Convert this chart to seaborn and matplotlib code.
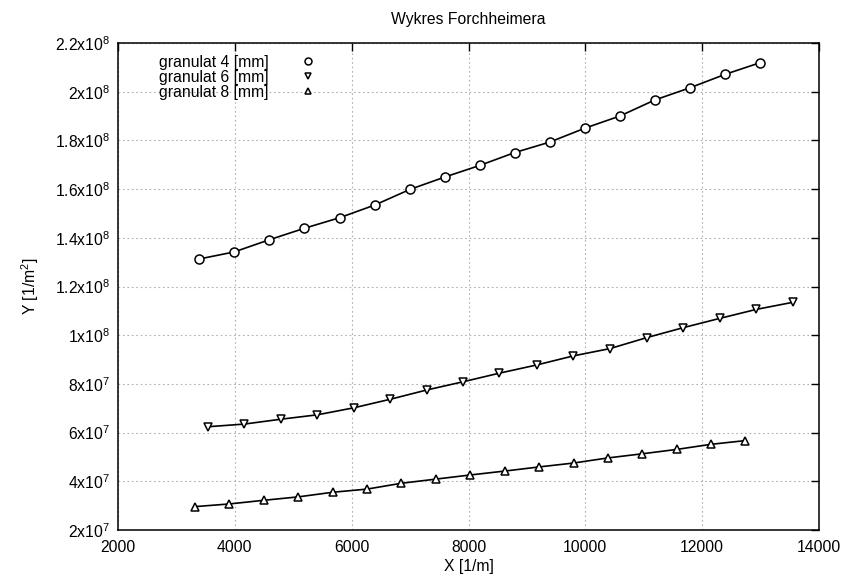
import matplotlib
matplotlib.use("Agg")
import matplotlib.pyplot as plt
from matplotlib.lines import Line2D
from matplotlib.ticker import FuncFormatter, MultipleLocator
import seaborn as sns
import pandas as pd

x4 = [3390, 3990, 4590, 5190, 5800, 6400, 7000, 7600, 8190, 8790, 9390, 9990,
      10590, 11190, 11790, 12390, 12990]
y4 = [1.313e8, 1.342e8, 1.392e8, 1.439e8, 1.483e8, 1.535e8, 1.599e8, 1.650e8,
      1.697e8, 1.750e8, 1.793e8, 1.850e8, 1.900e8, 1.966e8, 2.016e8, 2.071e8, 2.119e8]

x6 = [3535, 4162, 4790, 5412, 6040, 6662, 7285, 7912, 8527, 9172, 9794, 10422,
      11050, 11677, 12300, 12927, 13550]
y6 = [6.24e7, 6.35e7, 6.55e7, 6.73e7, 7.02e7, 7.37e7, 7.75e7, 8.09e7, 8.44e7,
      8.78e7, 9.15e7, 9.45e7, 9.90e7, 1.031e8, 1.069e8, 1.106e8, 1.135e8]

x8 = [3318, 3907, 4496, 5085, 5675, 6264, 6853, 7442, 8031, 8620, 9209, 9798,
      10387, 10977, 11566, 12155, 12733]
y8 = [2.96e7, 3.07e7, 3.22e7, 3.36e7, 3.55e7, 3.68e7, 3.92e7, 4.09e7, 4.26e7,
      4.42e7, 4.59e7, 4.75e7, 4.96e7, 5.13e7, 5.31e7, 5.52e7, 5.67e7]

labels = ["granulat 4 [mm]", "granulat 6 [mm]", "granulat 8 [mm]"]
markers = ["o", "v", "^"]
msizes = [6.5, 5.3, 5.3]

FS = 11.3

sns.set_theme(style="white")
plt.rcParams["font.family"] = ["Liberation Sans", "DejaVu Sans"]
plt.rcParams["mathtext.fontset"] = "custom"
plt.rcParams["mathtext.rm"] = "Liberation Sans"
plt.rcParams["mathtext.it"] = "Liberation Sans"
plt.rcParams["text.color"] = "black"
plt.rcParams["axes.labelcolor"] = "black"

fig = plt.figure(figsize=(8.49, 5.83), dpi=100)
ax = fig.add_axes([118 / 849, 1 - 530 / 583, (819 - 118) / 849, (530 - 43) / 583])

for xs, ys, lab, mk, ms in zip([x4, x6, x8], [y4, y6, y8], labels, markers, msizes):
    df = pd.DataFrame({"x": xs, "y": ys})
    sns.lineplot(data=df, x="x", y="y", ax=ax, color="black", linewidth=1.2,
                 marker=mk, markersize=ms, markerfacecolor="white",
                 markeredgecolor="black", markeredgewidth=1.1, label=lab,
                 legend=False)

ax.set_xlim(2000, 14000)
ax.set_ylim(2e7, 2.2e8)
ax.xaxis.set_major_locator(MultipleLocator(2000))
ax.yaxis.set_major_locator(MultipleLocator(2e7))


def yfmt(v, pos):
    if v <= 0:
        return "0"
    exp = 0
    m = v
    while m >= 10:
        m /= 10
        exp += 1
    m = round(m, 3)
    ms = ("%g" % m)
    return ms + "x10$^{%d}$" % exp


ax.yaxis.set_major_formatter(FuncFormatter(yfmt))
ax.tick_params(direction="in", length=6, width=1, top=True, right=True,
               labelsize=FS, colors="black", pad=6)
ax.tick_params(axis="x", pad=7)
for s in ax.spines.values():
    s.set_color("black")
    s.set_linewidth(1.1)

ax.grid(True, color="#b0b0b0", linestyle=(0, (1.5, 2.5)), linewidth=0.8)
ax.set_axisbelow(True)

ax.set_xlabel("X [1/m]", fontsize=FS, labelpad=3, color="black")
ax.set_ylabel("Y [1/m$^{2}$]", fontsize=FS, labelpad=10, color="black")
ax.set_title("Wykres Forchheimera", fontsize=FS, pad=14, color="black")

handles = [Line2D([], [], linestyle="none", marker=m, markersize=5,
                  markerfacecolor="white", markeredgecolor="black",
                  markeredgewidth=1.1) for m in markers]
leg = ax.legend(handles, labels, loc="upper left", bbox_to_anchor=(0.045, 0.995),
                markerfirst=False, frameon=False, fontsize=FS,
                handletextpad=2.0, labelspacing=0.0, handlelength=1.0,
                borderaxespad=0.2, labelcolor="black")

fig.savefig("out.png", dpi=100)
